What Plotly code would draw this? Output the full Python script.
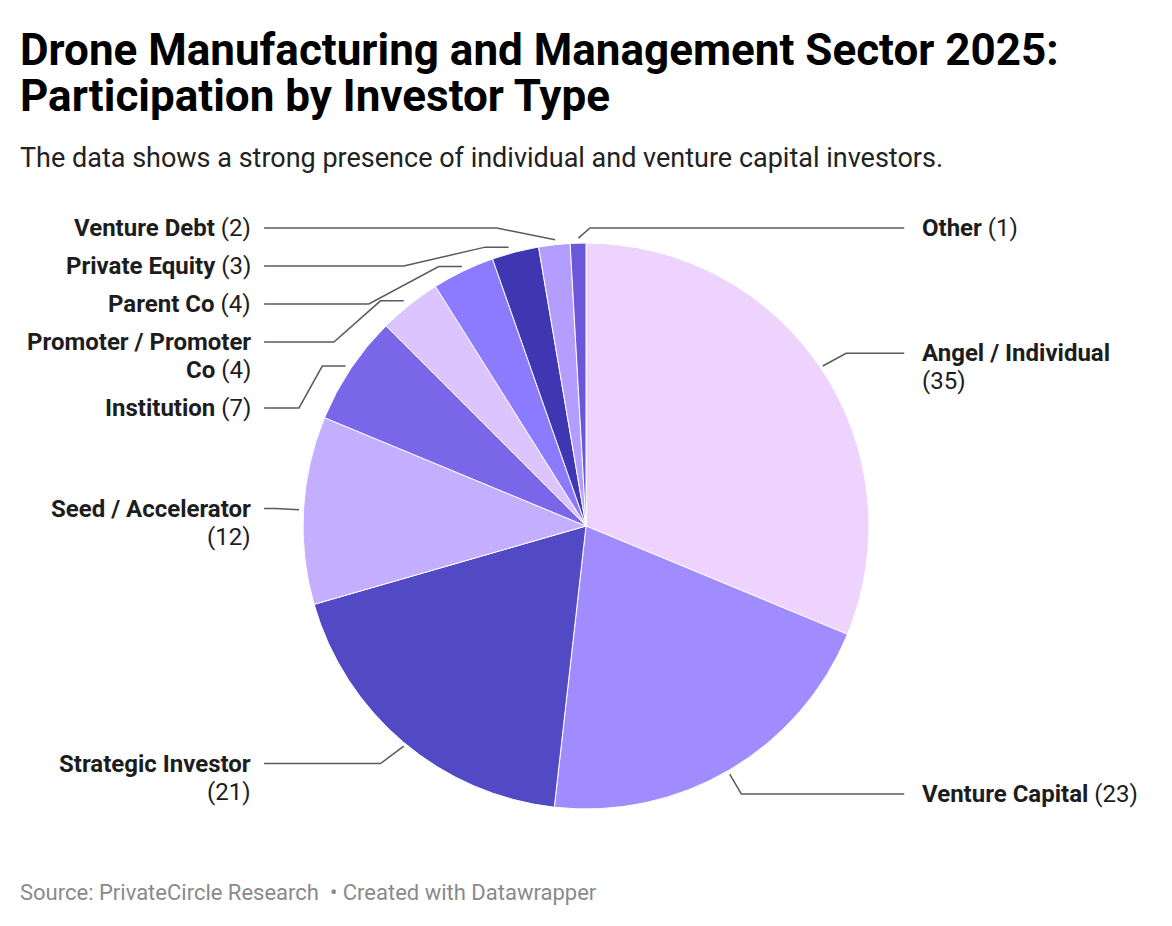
import math
import plotly.graph_objects as go

# data, clockwise from 12 o'clock
categories = ["Angel / Individual", "Venture Capital", "Strategic Investor",
              "Seed / Accelerator", "Institution", "Promoter / Promoter Co",
              "Parent Co", "Private Equity", "Venture Debt", "Other"]
counts = [35, 23, 21, 12, 7, 4, 4, 3, 2, 1]
colors = ["#eed3ff", "#a08bff", "#5249c4", "#c4aeff", "#7966e8",
          "#dcc4ff", "#8c7bff", "#3f37b1", "#b39dff", "#6a58d8"]

title_lines = ["Drone Manufacturing and Management Sector 2025:",
               "Participation by Investor Type"]
subtitle = "The data shows a strong presence of individual and venture capital investors."
footer = "Source: PrivateCircle Research  \u2022 Created with Datawrapper"

# page body has an 8px margin, so the figure is a bit smaller and
# everything below is placed in window pixel coords
OFF = 8
W, H = 1172 - OFF, 926 - OFF
CX, CY, R = 586, 526, 283
FONT = "Roboto"


def px(x):
    return (x - OFF) / W


def py(y):
    return 1 - (y - OFF) / H


def wrap_label(name, val, maxc=21):
    tokens = [(w, True) for w in name.split(" ")] + [("(%d)" % val, False)]
    lines, cur, n = [], [], 0
    for t in tokens:
        add = len(t[0]) + (1 if cur else 0)
        if cur and n + add > maxc:
            lines.append(cur)
            cur, n = [], 0
            add = len(t[0])
        cur.append(t)
        n += add
    lines.append(cur)
    out = []
    for ln in lines:
        s = ""
        bold = [w for w, b in ln if b]
        reg = [w for w, b in ln if not b]
        if bold:
            s += "<b>" + " ".join(bold) + "</b>"
        if reg:
            s += (" " if bold else "") + " ".join(reg)
        out.append(s)
    return out


fig = go.Figure()

fig.add_trace(go.Pie(
    labels=categories,
    values=counts,
    sort=False,
    direction="clockwise",
    rotation=0,
    textinfo="none",
    hoverinfo="label+value",
    marker=dict(colors=colors, line=dict(color="white", width=1)),
    domain=dict(x=[px(CX - R), px(CX + R)], y=[py(CY + R), py(CY - R)]),
    showlegend=False,
))

# label placement (datawrapper style columns)
total = sum(counts)
acc = 0
items = []
for name, v in zip(categories, counts):
    mid = (acc + v / 2) / total * 2 * math.pi
    acc += v
    s, c = math.sin(mid), math.cos(mid)
    side = 1 if s > -0.05 else -1
    lines = wrap_label(name, v)
    items.append(dict(name=name, v=v, s=s, c=c, side=side, lines=lines,
                      want=CY - c * (R + 28)))

LH = 28
TOP = 228
shapes = []
annotations = []
for side in (-1, 1):
    grp = sorted([it for it in items if it["side"] == side], key=lambda d: d["want"])
    nxt = TOP
    for it in grp:
        y = max(it["want"], nxt)
        it["y"] = y
        nxt = y + len(it["lines"]) * LH + 10

    edge = 263 if side < 0 else 905
    for it in grp:
        ax, ay = CX + it["s"] * (R + 5), CY - it["c"] * (R + 5)
        ly = it["y"]
        if abs(ly - it["want"]) < 2:
            kx, ky = CX + it["s"] * (R + 28), CY - it["c"] * (R + 28)
            pts = [(ax, ay), (kx, ky), (edge, ly)]
        else:
            down = ly > ay
            sx = ax + side * (28 if down else 0)
            if down:
                frac = 0.35
            else:
                frac = 0.21 if side < 0 else 0.02
            k2 = sx + (edge - sx) * frac
            pts = [(ax, ay), (sx, ay), (k2, ly), (edge, ly)]
        path = "M " + " L ".join("%.2f,%.4f" % (px(x), py(y)) for x, y in pts)
        shapes.append(dict(type="path", path=path, xref="paper", yref="paper",
                           line=dict(color="#5a5a5a", width=1.5)))
        for i, ln in enumerate(it["lines"]):
            annotations.append(dict(
                text=ln,
                x=px(253 if side < 0 else 920), y=py(ly + i * LH),
                xref="paper", yref="paper",
                xanchor="right" if side < 0 else "left", yanchor="middle",
                align="right" if side < 0 else "left",
                showarrow=False,
                font=dict(family=FONT, size=24, color="#1d1d1d"),
            ))

for i, t in enumerate(title_lines):
    annotations.append(dict(text="<b>" + t + "</b>",
                            x=px(18), y=py(50 + i * 46), xref="paper", yref="paper",
                            xanchor="left", yanchor="middle", align="left", showarrow=False,
                            font=dict(family=FONT, size=44, color="#000000")))
annotations.append(dict(text=subtitle, x=px(18), y=py(158), xref="paper", yref="paper",
                        xanchor="left", yanchor="middle", align="left", showarrow=False,
                        font=dict(family=FONT, size=27, color="#222222")))
annotations.append(dict(text=footer, x=px(18), y=py(892), xref="paper", yref="paper",
                        xanchor="left", yanchor="middle", align="left", showarrow=False,
                        font=dict(family=FONT, size=22, color="#8a8a8a")))

fig.update_layout(
    width=W, height=H,
    margin=dict(l=0, r=0, t=0, b=0),
    paper_bgcolor="white",
    plot_bgcolor="white",
    font=dict(family=FONT),
    shapes=shapes,
    annotations=annotations,
)

fig.write_html("out.html")
